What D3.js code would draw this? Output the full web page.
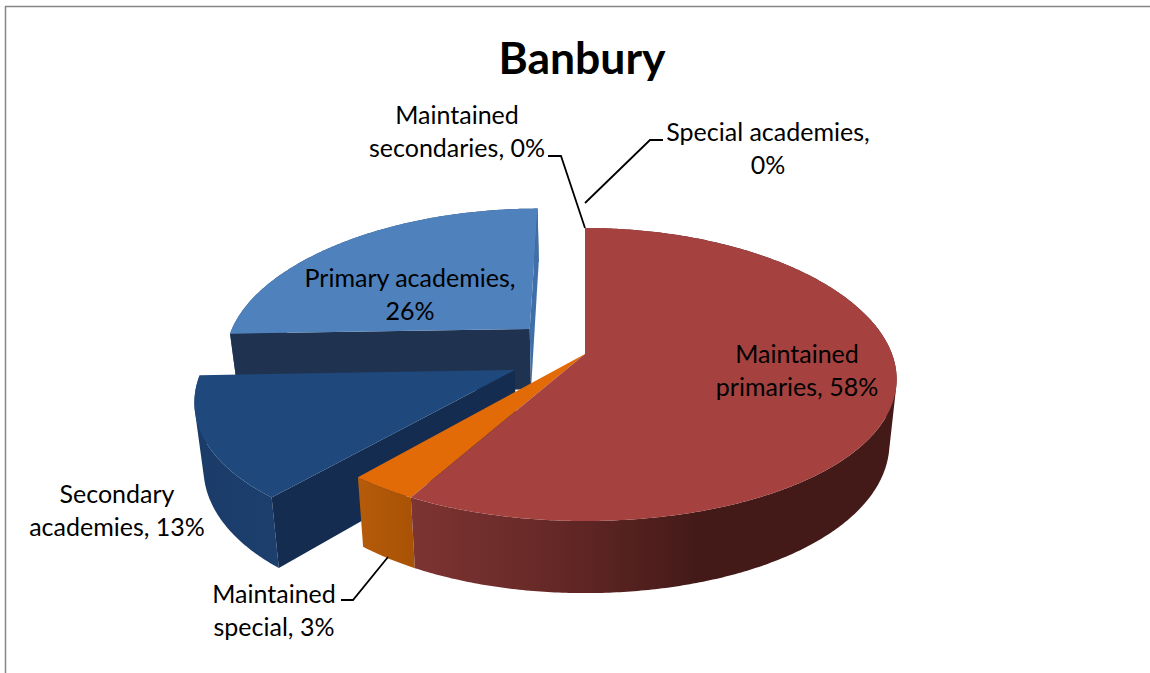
<!DOCTYPE html>
<html><head><meta charset="utf-8">
<script src="https://cdn.jsdelivr.net/npm/d3@7/dist/d3.min.js"></script>
<style>html,body{margin:0;padding:0;background:#fff;overflow:hidden}svg{display:block}text{font-family:Lato,"Noto Sans",sans-serif;fill:#000}</style>
</head><body><svg id="c" width="1150" height="673"></svg>
<script>
const chartTitle = "Banbury";
const categories = ["Maintained primaries","Maintained special","Secondary academies","Primary academies","Maintained secondaries","Special academies"];
const percentValues = [58,3.1,13.35,25.55,0,0];
const labelLines = [["Maintained","primaries, 58%"],["Maintained","special, 3%"],["Secondary","academies, 13%"],["Primary academies,","26%"],["Maintained","secondaries, 0%"],["Special academies,","0%"]];
const labelCentres = [[797,363],[274,603],[117,503],[410,287],[457,124],[768,141]];
const leaderLines = [null,[[341,600],[353,600],[388,557]],null,null,[[548,156],[561,156],[585,228]],[[585,203],[650,140],[663,140]]];
const explosion = [0,0,0.25,0.258,0,0];
const topColours = ["#a5423f","#e26b08","#1f497d","#4f81bd"];
const innerColours = ["#431b18","#a85005","#132c50","#1f3350"];

const svg = d3.select("#c");
const defs = svg.append("defs");
function grad(id,x1,x2,stops){
  const g=defs.append("linearGradient").attr("id",id).attr("gradientUnits","userSpaceOnUse").attr("x1",x1).attr("x2",x2).attr("y1",0).attr("y2",0);
  stops.forEach(s=>g.append("stop").attr("offset",s[0]).attr("stop-color",s[1]));
}
grad("sideRed",412,700,[[0,"#7d3432"],[0.5,"#652826"],[1,"#431a18"]]);
grad("sideOrange",360,416,[[0,"#b55b0a"],[1,"#a85205"]]);
grad("sideNavy",200,300,[[0,"#1b3c69"],[1,"#1d4070"]]);
const sideFills=["url(#sideRed)","url(#sideOrange)","url(#sideNavy)","#2a4a75"];

// frame
svg.append("path").attr("d","M1150,6.5H5.5V673").attr("fill","none").attr("stroke","#868686").attr("stroke-width",1.5);

// projection of the pie plane to the screen
const cx=585, A=307, kx=0.172, ky=0.14, vy=-672, By=1026, depth=62, shrink=0.977;
function project(X,Z,bottom){
  const wx=1/(1+kx*Z), wy=1/(1+ky*Z);
  const s=bottom?shrink:1;
  return [cx+A*X*wx*s, vy+By*wy+(bottom?depth*wy:0)];
}
const pie=d3.pie().sort(null).value(d=>d).startAngle(0).endAngle(2*Math.PI);
const arcs=pie(percentValues);
const line=d3.line();
function rimPoint(a,off,bottom){return project(Math.sin(a)+off[0],Math.cos(a)+off[1],bottom);}
function rim(a0,a1,off,bottom){
  const n=Math.max(2,Math.ceil((a1-a0)/0.01));
  return d3.range(n+1).map(i=>rimPoint(a0+(a1-a0)*i/n,off,bottom));
}
function offsetOf(i){
  const m=(arcs[i].startAngle+arcs[i].endAngle)/2;
  return [explosion[i]*Math.sin(m),explosion[i]*Math.cos(m)];
}
function poly(pts,fill){svg.append("path").attr("d",line(pts)+"Z").attr("fill",fill);}
function cutFace(a,off,fill){
  poly([project(off[0],off[1],false),rimPoint(a,off,false),rimPoint(a,off,true),project(off[0],off[1],true)],fill);
}
function outerFace(i,fill){
  // union of small quads, all wound the same way, so front and back facing parts do not cancel
  const o=offsetOf(i),d=arcs[i];
  const t=rim(d.startAngle,d.endAngle,o,false), b=rim(d.startAngle,d.endAngle,o,true);
  let path="";
  d3.range(t.length-1).forEach(k=>{
    const q=[t[k],t[k+1],b[k+1],b[k]];
    if(d3.polygonArea(q)<0) q.reverse();
    path+=line(q)+"Z";
  });
  svg.append("path").attr("d",path).attr("fill",fill).attr("fill-rule","nonzero");
}
function topFace(i){
  const o=offsetOf(i),d=arcs[i];
  poly([project(o[0],o[1],false)].concat(rim(d.startAngle,d.endAngle,o,false)),topColours[i]);
}
// back to front
const g3=3,g2=2,g1=1,g0=0;
outerFace(g3,sideFills[g3]);
cutFace(arcs[g3].startAngle,offsetOf(g3),innerColours[g3]);
cutFace(arcs[g3].endAngle,offsetOf(g3),"#3f6ea8");
topFace(g3);
outerFace(g2,sideFills[g2]);
cutFace(arcs[g2].startAngle,offsetOf(g2),innerColours[g2]);
topFace(g2);
outerFace(g1,sideFills[g1]);
outerFace(g0,sideFills[g0]);
topFace(g1);
topFace(g0);

// leaders
leaderLines.forEach(l=>{ if(l) svg.append("path").attr("d",line(l)).attr("fill","none").attr("stroke","#000").attr("stroke-width",1.8); });

// labels
const fs=25, lh=32.5;
labelLines.forEach((lines,i)=>{
  const t=svg.append("text").attr("text-anchor","middle").attr("font-size",fs);
  lines.forEach((s,j)=>t.append("tspan").attr("x",labelCentres[i][0]).attr("y",labelCentres[i][1]+j*lh).text(s));
});
svg.append("text").attr("x",582).attr("y",74).attr("text-anchor","middle").attr("font-size",44.5).attr("font-weight",700).text(chartTitle);
</script></body></html>
